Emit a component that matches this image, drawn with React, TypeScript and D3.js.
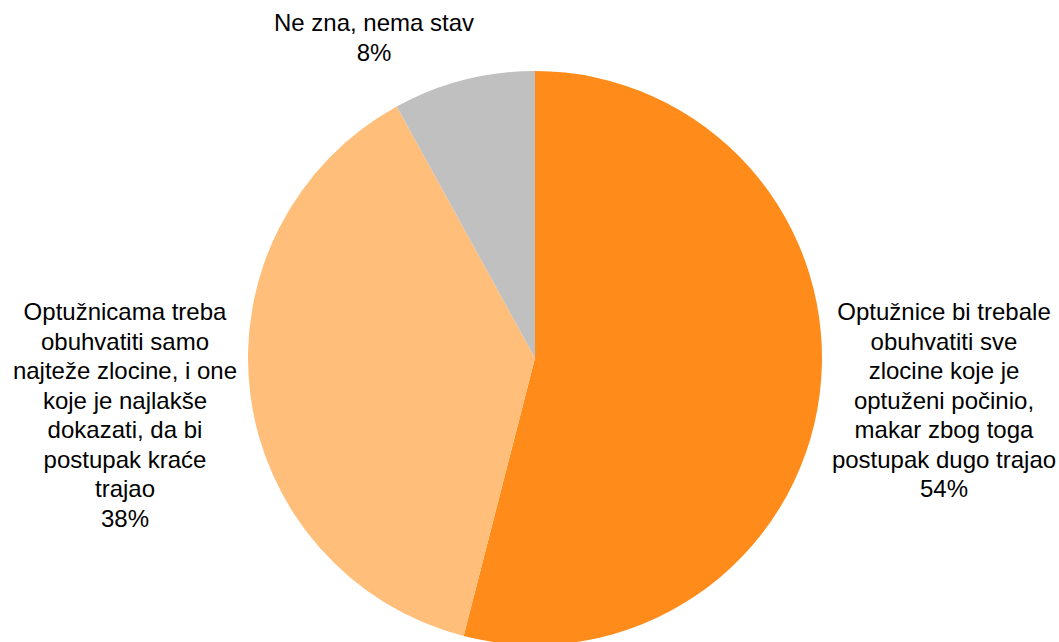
import * as React from 'react'
import * as d3 from 'd3'

const categories = [
  'Optužnice bi trebale obuhvatiti sve zlocine koje je optuženi počinio, makar zbog toga postupak dugo trajao',
  'Optužnicama treba obuhvatiti samo najteže zlocine, i one koje je najlakše dokazati, da bi postupak kraće trajao',
  'Ne zna, nema stav',
]
const values = [54, 38, 8]
const labelLines = [
  ['Optužnice bi trebale', 'obuhvatiti sve', 'zlocine koje je', 'optuženi počinio,', 'makar zbog toga', 'postupak dugo trajao', '54%'],
  ['Optužnicama treba', 'obuhvatiti samo', 'najteže zlocine, i one', 'koje je najlakše', 'dokazati, da bi', 'postupak kraće', 'trajao', '38%'],
  ['Ne zna, nema stav', '8%'],
]
const colors = ['#FF8C1A', '#FFBF7B', '#C0C0C0']

const width = 1059
const height = 642

const App = () => {
  const cx = 535
  const cy = 358
  const r = 287

  const pie = d3.pie<number>().sort(null).value((d) => d)
  const arcs = pie(values)
  const arc = d3.arc<d3.PieArcDatum<number>>().innerRadius(0).outerRadius(r)

  // label anchor positions (center x, first baseline y)
  const labelPos = [
    {x: 944, y: 320},
    {x: 125, y: 320},
    {x: 374, y: 31},
  ]
  const lineH = 29.5

  return (
    <svg width={width} height={height}
         style={{position: 'absolute', left: 0, top: 0, display: 'block', background: '#fff'}}
         fontFamily="'Liberation Sans', Arial, sans-serif">
      <g transform={`translate(${cx},${cy})`}>
        {arcs.map((a, i) => (
          <path key={i} d={arc(a) || ''} fill={colors[i]}>
            <title>{categories[i]}</title>
          </path>
        ))}
      </g>
      {labelLines.map((lines, i) => (
        <text key={i} textAnchor="middle" fontSize={24} fill="#000">
          {lines.map((l, j) => (
            <tspan key={j} x={labelPos[i].x} y={labelPos[i].y + j * lineH}>{l}</tspan>
          ))}
        </text>
      ))}
    </svg>
  )
}

export default App
